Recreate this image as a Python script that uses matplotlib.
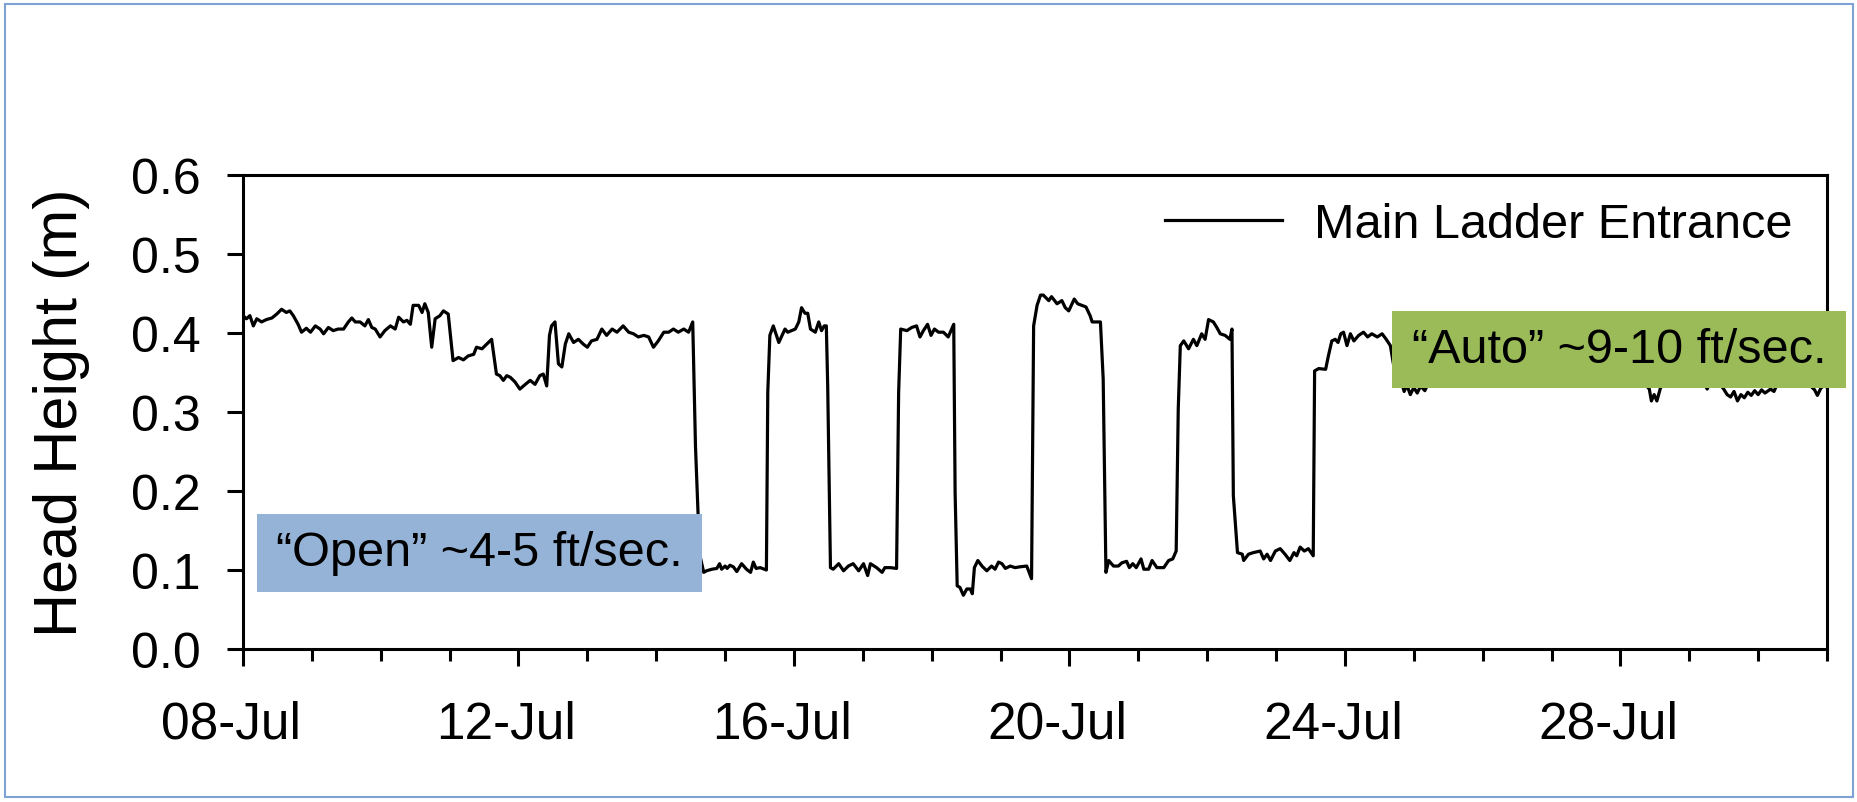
import numpy as np
import matplotlib
matplotlib.use("Agg")
import matplotlib.pyplot as plt
import matplotlib.dates as mdates
from matplotlib.patches import Rectangle
from matplotlib.ticker import FormatStrFormatter
from matplotlib.transforms import ScaledTranslation
from datetime import datetime

# Logger record: days since 08-Jul and head height (m) at the main ladder entrance
start = datetime(2010, 7, 8)
day_offset = np.array([
    0.00, 0.05, 0.10, 0.15, 0.20, 0.27, 0.34, 0.42, 0.49, 0.56, 0.63, 0.68, 0.73, 0.80, 0.85, 0.92, 0.98,
    1.05, 1.12, 1.17, 1.24, 1.31, 1.38, 1.46, 1.53, 1.58, 1.63, 1.70, 1.77, 1.82, 1.87, 1.92, 1.99,
    2.06, 2.14, 2.21, 2.26, 2.33, 2.38, 2.43, 2.47, 2.55, 2.60, 2.64, 2.69, 2.74, 2.79, 2.86, 2.91, 2.98,
    3.05, 3.13, 3.20, 3.27, 3.35, 3.39, 3.47, 3.54, 3.61, 3.68, 3.73, 3.78, 3.83, 3.88, 3.95,
    4.02, 4.10, 4.17, 4.24, 4.31, 4.36, 4.41, 4.45, 4.48, 4.53, 4.58, 4.63, 4.68, 4.73, 4.80, 4.87, 4.94,
    5.00, 5.06, 5.14, 5.21, 5.28, 5.36, 5.43, 5.52, 5.60, 5.67, 5.74, 5.82, 5.89, 5.96,
    6.03, 6.11, 6.18, 6.25, 6.32, 6.40, 6.47, 6.53, 6.57, 6.63, 6.69, 6.73, 6.81, 6.88, 6.92, 6.95,
    7.00, 7.03, 7.07, 7.12, 7.17, 7.24, 7.31, 7.37, 7.41, 7.45, 7.51, 7.60, 7.62, 7.65, 7.70, 7.78, 7.87, 7.91,
    8.02, 8.07, 8.11, 8.16, 8.20, 8.24, 8.31, 8.36, 8.40, 8.44, 8.47, 8.49, 8.53, 8.57, 8.65, 8.72, 8.79, 8.86, 8.94,
    9.01, 9.07, 9.11, 9.20, 9.28, 9.32, 9.40, 9.49, 9.52, 9.55, 9.64, 9.71, 9.78, 9.83, 9.88, 9.94, 9.99,
    10.04, 10.10, 10.17, 10.24, 10.32, 10.34, 10.37, 10.41, 10.46, 10.51, 10.56, 10.59, 10.62, 10.67, 10.73,
    10.80, 10.87, 10.92, 10.97,
    11.02, 11.07, 11.14, 11.21, 11.28, 11.38, 11.45, 11.48, 11.53, 11.58, 11.62, 11.70, 11.74, 11.82, 11.89,
    11.94, 11.99,
    12.07, 12.12, 12.18, 12.24, 12.30, 12.33, 12.45, 12.49, 12.53, 12.57, 12.64, 12.71, 12.76, 12.83, 12.87,
    12.92, 12.97,
    13.04, 13.08, 13.15, 13.20, 13.27, 13.37, 13.44, 13.50, 13.55, 13.58, 13.61, 13.66, 13.73, 13.80, 13.85,
    13.92, 13.97,
    14.02, 14.09, 14.14, 14.19, 14.26, 14.33, 14.36, 14.38, 14.44, 14.51, 14.53, 14.60, 14.67, 14.77, 14.82,
    14.87, 14.92, 14.99,
    15.06, 15.13, 15.20, 15.26, 15.30, 15.35, 15.41, 15.47, 15.54, 15.56, 15.62, 15.72, 15.76, 15.81, 15.86,
    15.90, 15.94, 15.98,
    16.03, 16.08, 16.13, 16.20, 16.27, 16.33, 16.39, 16.47, 16.54, 16.60, 16.66, 16.70, 16.75, 16.82, 16.86,
    16.90, 16.95,
    17.00, 17.05, 17.10, 17.16, 17.22, 17.35, 17.50, 17.65, 17.80, 17.95,
    18.10, 18.25, 18.40, 18.55, 18.70, 18.85,
    19.00, 19.15, 19.30, 19.45, 19.60, 19.75, 19.90,
    20.05, 20.20, 20.35, 20.42, 20.45, 20.49, 20.53, 20.58, 20.65, 20.80, 20.95,
    21.10, 21.22, 21.26, 21.30, 21.42, 21.50, 21.55, 21.60, 21.65, 21.70, 21.75, 21.80, 21.85, 21.90, 21.95,
    22.00, 22.05, 22.10, 22.18, 22.23, 22.28, 22.45, 22.60, 22.75, 22.82, 22.86, 22.91, 22.96, 23.00,
])
head_m = np.array([
    0.422, 0.418, 0.422, 0.409, 0.418, 0.414, 0.417, 0.419, 0.424, 0.430, 0.426, 0.428, 0.422, 0.411, 0.401, 0.406, 0.401,
    0.409, 0.405, 0.399, 0.407, 0.403, 0.405, 0.405, 0.414, 0.419, 0.414, 0.414, 0.409, 0.417, 0.407, 0.405, 0.395,
    0.403, 0.409, 0.405, 0.420, 0.414, 0.416, 0.411, 0.435, 0.435, 0.426, 0.437, 0.426, 0.382, 0.418, 0.422, 0.428, 0.424,
    0.365, 0.369, 0.366, 0.371, 0.373, 0.382, 0.380, 0.386, 0.392, 0.348, 0.346, 0.340, 0.346, 0.344, 0.338,
    0.329, 0.335, 0.340, 0.335, 0.346, 0.348, 0.333, 0.397, 0.409, 0.414, 0.361, 0.357, 0.386, 0.399, 0.388, 0.392, 0.386,
    0.382, 0.390, 0.392, 0.405, 0.397, 0.405, 0.401, 0.409, 0.401, 0.399, 0.395, 0.397, 0.395, 0.382,
    0.390, 0.401, 0.401, 0.405, 0.401, 0.405, 0.401, 0.414, 0.257, 0.120, 0.097, 0.099, 0.101, 0.102, 0.108, 0.101,
    0.105, 0.102, 0.106, 0.104, 0.098, 0.108, 0.101, 0.097, 0.110, 0.102, 0.103, 0.100, 0.325, 0.397, 0.409, 0.388, 0.405, 0.401,
    0.405, 0.414, 0.432, 0.425, 0.425, 0.405, 0.401, 0.414, 0.403, 0.409, 0.409, 0.333, 0.103, 0.101, 0.108, 0.099, 0.105, 0.108, 0.099,
    0.108, 0.093, 0.108, 0.103, 0.097, 0.103, 0.103, 0.102, 0.325, 0.405, 0.403, 0.407, 0.409, 0.395, 0.403, 0.411, 0.397,
    0.405, 0.401, 0.401, 0.395, 0.411, 0.198, 0.080, 0.078, 0.068, 0.076, 0.076, 0.070, 0.103, 0.112, 0.105,
    0.099, 0.105, 0.101, 0.110,
    0.108, 0.102, 0.105, 0.103, 0.104, 0.105, 0.089, 0.409, 0.435, 0.448, 0.448, 0.441, 0.446, 0.437, 0.441,
    0.432, 0.428,
    0.443, 0.437, 0.435, 0.433, 0.422, 0.414, 0.414, 0.342, 0.097, 0.112, 0.105, 0.105, 0.109, 0.111, 0.103,
    0.108, 0.103,
    0.114, 0.101, 0.101, 0.112, 0.103, 0.103, 0.112, 0.114, 0.124, 0.304, 0.384, 0.390, 0.380, 0.392, 0.384,
    0.399, 0.392,
    0.417, 0.414, 0.407, 0.399, 0.397, 0.392, 0.405, 0.194, 0.122, 0.120, 0.112, 0.120, 0.122, 0.124, 0.114,
    0.120, 0.112, 0.124,
    0.127, 0.120, 0.112, 0.122, 0.118, 0.129, 0.124, 0.127, 0.118, 0.352, 0.355, 0.354, 0.371, 0.390, 0.392,
    0.388, 0.399, 0.401,
    0.384, 0.399, 0.390, 0.397, 0.401, 0.395, 0.399, 0.395, 0.399, 0.392, 0.384, 0.363, 0.342, 0.338, 0.326,
    0.334, 0.322,
    0.331, 0.324, 0.333, 0.327, 0.338, 0.342, 0.337, 0.345, 0.340, 0.347,
    0.341, 0.338, 0.344, 0.339, 0.346, 0.341,
    0.337, 0.343, 0.348, 0.341, 0.338, 0.344, 0.340,
    0.345, 0.339, 0.336, 0.329, 0.314, 0.322, 0.314, 0.330, 0.339, 0.343, 0.338,
    0.342, 0.336, 0.329, 0.337, 0.338, 0.329, 0.322, 0.319, 0.326, 0.314, 0.322, 0.318, 0.325, 0.321, 0.327,
    0.322, 0.328, 0.324, 0.329, 0.326, 0.336, 0.341, 0.337, 0.334, 0.328, 0.321, 0.330, 0.334, 0.331,
])

series_label = "Main Ladder Entrance"
y_label = "Head Height (m)"
y_ticks = [0.0, 0.1, 0.2, 0.3, 0.4, 0.5, 0.6]
labelled_days = [8, 12, 16, 20, 24, 28]
n_days = 23
open_note = "\u201cOpen\u201d ~4-5 ft/sec."
auto_note = "\u201cAuto\u201d ~9-10 ft/sec."

plt.rcParams['font.family'] = ['Liberation Sans', 'DejaVu Sans']

W, H = 1858, 803
fig = plt.figure(figsize=(W / 100, H / 100), dpi=100)
fig.patch.set_facecolor('white')

ax = fig.add_axes([243 / W, 1 - 650 / H, (1827 - 243) / W, (650 - 176) / H])
t0 = mdates.date2num(start)
ax.plot(t0 + day_offset, head_m, color='black', lw=2.3, label=series_label, zorder=3)

ax.set_xlim(t0, t0 + n_days)
ax.set_ylim(y_ticks[0], y_ticks[-1])
ax.set_yticks(y_ticks)
ax.yaxis.set_major_formatter(FormatStrFormatter('%.1f'))
ax.xaxis.set_major_locator(mdates.DayLocator(bymonthday=labelled_days))
ax.xaxis.set_minor_locator(mdates.DayLocator())
ax.xaxis.set_major_formatter(mdates.DateFormatter('%d-%b'))

for s in ax.spines.values():
    s.set_linewidth(2.2)
    s.set_color('black')
ax.tick_params(axis='y', which='major', direction='out', length=11.5, width=2.2,
               labelsize=36, pad=19)
ax.tick_params(axis='x', which='major', direction='out', length=12.5, width=2.2,
               labelsize=37, pad=24)
ax.tick_params(axis='x', which='minor', direction='out', length=8.5, width=2.2)

# date labels sit slightly left of their ticks
shift_left = ScaledTranslation(-0.12, 0, fig.dpi_scale_trans)
for lbl in ax.xaxis.get_majorticklabels():
    lbl.set_transform(lbl.get_transform() + shift_left)

ax.set_ylabel(y_label, fontsize=44)
ax.yaxis.set_label_coords(-0.0966, 0.5)

ax.legend(loc='center right', bbox_to_anchor=(1793 / W, 1 - 226 / H),
          bbox_transform=fig.transFigure, frameon=False, fontsize=35,
          handlelength=2.4, handletextpad=0.67, borderpad=0, borderaxespad=0)

# Gate-setting notes drawn on top of the trace
fig.add_artist(Rectangle((257 / W, 1 - 593 / H), 445 / W, 78 / H, transform=fig.transFigure,
                         facecolor='#95B3D7', edgecolor='none', zorder=5))
fig.text(479.5 / W, 1 - 554 / H, open_note, ha='center', va='center', fontsize=35, zorder=6)
fig.add_artist(Rectangle((1392 / W, 1 - 389 / H), 454 / W, 77 / H, transform=fig.transFigure,
                         facecolor='#9BBB59', edgecolor='none', zorder=5))
fig.text(1619 / W, 1 - 350.5 / H, auto_note, ha='center', va='center', fontsize=35, zorder=6)

# Thin frame round the whole panel
fig.add_artist(Rectangle((5 / W, 5 / H), (W - 10) / W, (H - 10) / H, transform=fig.transFigure,
                         fill=False, edgecolor='#7EA2D4', lw=1.5, zorder=10))

fig.savefig('out.png', dpi=100, facecolor='white')
